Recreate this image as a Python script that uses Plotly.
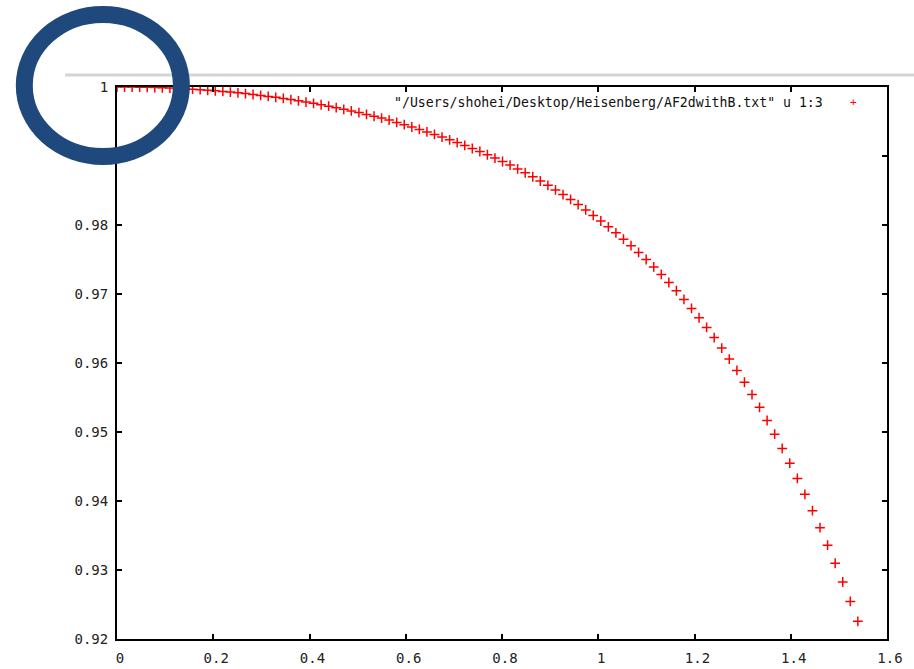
import plotly.graph_objects as go

# ---- data ----
x_values = [
    0.0000, 0.0157, 0.0314, 0.0471, 0.0628, 0.0785, 0.0942, 0.1100, 0.1257, 0.1414,
    0.1571, 0.1728, 0.1885, 0.2042, 0.2199, 0.2356, 0.2513, 0.2670, 0.2827, 0.2985,
    0.3142, 0.3299, 0.3456, 0.3613, 0.3770, 0.3927, 0.4084, 0.4241, 0.4398, 0.4555,
    0.4712, 0.4869, 0.5027, 0.5184, 0.5341, 0.5498, 0.5655, 0.5812, 0.5969, 0.6126,
    0.6283, 0.6440, 0.6597, 0.6754, 0.6912, 0.7069, 0.7226, 0.7383, 0.7540, 0.7697,
    0.7854, 0.8011, 0.8168, 0.8325, 0.8482, 0.8639, 0.8796, 0.8954, 0.9111, 0.9268,
    0.9425, 0.9582, 0.9739, 0.9896, 1.0053, 1.0210, 1.0367, 1.0524, 1.0681, 1.0838,
    1.0996, 1.1153, 1.1310, 1.1467, 1.1624, 1.1781, 1.1938, 1.2095, 1.2252, 1.2409,
    1.2566, 1.2723, 1.2881, 1.3038, 1.3195, 1.3352, 1.3509, 1.3666, 1.3823, 1.3980,
    1.4137, 1.4294, 1.4451, 1.4608, 1.4765, 1.4923, 1.5080, 1.5237, 1.5394,
]

y_values = [
    1.00000, 1.00000, 0.99999, 0.99997, 0.99995, 0.99992, 0.99989, 0.99985, 0.99980, 0.99974,
    0.99968, 0.99961, 0.99953, 0.99945, 0.99936, 0.99926, 0.99915, 0.99904, 0.99891, 0.99878,
    0.99864, 0.99850, 0.99834, 0.99818, 0.99800, 0.99782, 0.99763, 0.99743, 0.99722, 0.99700,
    0.99677, 0.99653, 0.99629, 0.99603, 0.99576, 0.99549, 0.99520, 0.99487, 0.99454, 0.99420,
    0.99385, 0.99349, 0.99312, 0.99274, 0.99235, 0.99194, 0.99153, 0.99109, 0.99065, 0.99018,
    0.98970, 0.98920, 0.98868, 0.98813, 0.98757, 0.98699, 0.98638, 0.98575, 0.98509, 0.98441,
    0.98370, 0.98296, 0.98219, 0.98139, 0.98058, 0.97974, 0.97886, 0.97795, 0.97701, 0.97602,
    0.97500, 0.97393, 0.97283, 0.97167, 0.97047, 0.96922, 0.96791, 0.96656, 0.96515, 0.96368,
    0.96216, 0.96057, 0.95892, 0.95721, 0.95543, 0.95358, 0.95167, 0.94968, 0.94762, 0.94548,
    0.94327, 0.94097, 0.93860, 0.93614, 0.93360, 0.93098, 0.92826, 0.92545, 0.92256,
]
assert len(x_values) == len(y_values)

x_ticks = [0, 0.2, 0.4, 0.6, 0.8, 1.0, 1.2, 1.4, 1.6]
x_tick_labels = ["0", "0.2", "0.4", "0.6", "0.8", "1", "1.2", "1.4", "1.6"]
y_ticks = [0.92, 0.93, 0.94, 0.95, 0.96, 0.97, 0.98, 0.99, 1.0]
y_tick_labels = ["0.92", "0.93", "0.94", "0.95", "0.96", "0.97", "0.98", "0.99", "1"]

series_label = '"/Users/shohei/Desktop/Heisenberg/AF2dwithB.txt" u 1:3'

FONT = "DejaVu Sans Mono"
W, H = 914, 669
L, R, T, B = 117, 27, 87, 30
pw, ph = W - L - R, H - T - B


def px(xp):
    return (xp - L) / pw


def py(yp):
    return (H - B - yp) / ph


fig = go.Figure()
fig.add_trace(go.Scatter(
    x=x_values, y=y_values, mode="markers",
    marker=dict(symbol="cross-thin", size=7, color="#ff0000",
                line=dict(color="#ff0000", width=1.5)),
    showlegend=False, name=series_label,
))

axis_common = dict(
    showline=True, linecolor="black", linewidth=2, mirror="allticks",
    ticks="inside", ticklen=5, tickwidth=2, tickcolor="black",
    showgrid=False, zeroline=False, automargin=False,
    tickfont=dict(family=FONT, size=14, color="#222"),
)

fig.update_xaxes(range=[0, 1.6], tickmode="array", tickvals=x_ticks,
                 ticktext=x_tick_labels, ticklabelstandoff=5, ticklabelshift=3,
                 **axis_common)
fig.update_yaxes(range=[0.92, 1.0], tickmode="array", tickvals=y_ticks,
                 ticktext=y_tick_labels, ticklabelstandoff=4, **axis_common)

shapes = [
    # light gray separator line at the top
    dict(type="line", xref="paper", yref="paper",
         x0=px(65), x1=px(914), y0=py(75), y1=py(75),
         line=dict(color="#d4d4d4", width=3), layer="above"),
    # blue highlight ring
    dict(type="circle", xref="paper", yref="paper",
         x0=px(24.3), x1=px(181.4), y0=py(156.5), y1=py(14.5),
         line=dict(color="#1f497d", width=17), fillcolor="rgba(0,0,0,0)",
         layer="above"),
]

annotations = [
    dict(xref="paper", yref="paper", x=px(825), y=py(102), xanchor="right",
         yanchor="middle", text=series_label, showarrow=False,
         font=dict(family=FONT, size=13.2, color="#111")),
    dict(xref="paper", yref="paper", x=px(853), y=py(102), xanchor="center",
         yanchor="middle", text="+", showarrow=False,
         font=dict(family=FONT, size=11, color="#ff0000")),
]

fig.update_layout(
    width=W, height=H,
    margin=dict(l=L, r=R, t=T, b=B, pad=0, autoexpand=False),
    plot_bgcolor="white", paper_bgcolor="white",
    shapes=shapes, annotations=annotations,
    showlegend=False,
)

fig.write_html(
    "out.html",
    config={"displayModeBar": False},
    post_script="document.body.style.margin='0';document.body.style.overflow='hidden';",
)
